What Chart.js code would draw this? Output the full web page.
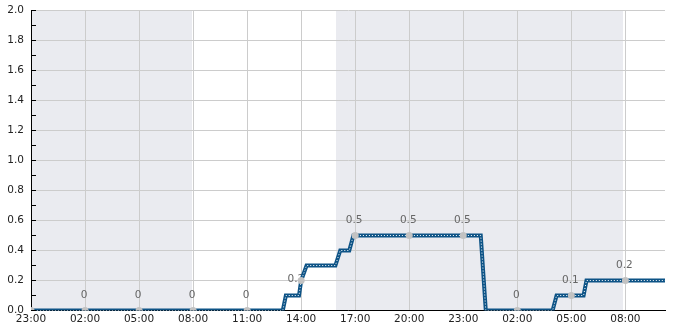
<!DOCTYPE html>
<html>
<head>
<meta charset="utf-8">
<script src="https://cdn.jsdelivr.net/npm/chart.js@4/dist/chart.umd.min.js"></script>
<style>
  html, body { margin: 0; padding: 0; background: #fff; }
  #wrap { width: 685px; height: 330px; }
</style>
</head>
<body>
<div id="wrap"><canvas id="chart" width="685" height="330"></canvas></div>
<script>
// hours counted from 23:00 on the first day
const stepHours  = [0, 13.98, 14.15, 14.88, 15.0, 15.3, 16.9, 17.17, 17.67, 17.9, 24.97, 25.25, 28.96, 29.18, 30.68, 30.84, 35.2];
const stepValues = [0, 0,     0.1,   0.1,   0.2,  0.3,  0.3,  0.4,   0.4,   0.5,  0.5,   0,     0,     0.1,   0.1,   0.2,   0.2];

const markHours  = [0, 3, 6, 9, 12, 15, 18, 21, 24, 27, 30, 33];
const markValues = [0, 0, 0, 0, 0, 0.2, 0.5, 0.5, 0.5, 0, 0.1, 0.2];
const markLabels = ['', '0', '0', '0', '0', '0.2', '0.5', '0.5', '0.5', '0', '0.1', '0.2'];

const hourLabels = ['23:00', '02:00', '05:00', '08:00', '11:00', '14:00', '17:00', '20:00', '23:00', '02:00', '05:00', '08:00'];

const nightStart = [0, 16.93];
const nightEnd   = [8.92, 32.85];

const font = { family: 'DejaVu Sans', size: 10.5 };

const nightShade = {
    id: 'nightShade',
    beforeDraw(chart) {
        const { ctx, chartArea, scales } = chart;
        ctx.save();
        ctx.fillStyle = '#eaebf0';
        const top = Math.round(chartArea.top);
        const bottom = Math.round(chartArea.bottom);
        for (let i = 0; i < nightStart.length; i++) {
            const x1 = Math.round(scales.x.getPixelForValue(nightStart[i]));
            const x2 = Math.round(scales.x.getPixelForValue(nightEnd[i]));
            ctx.fillRect(x1, top, x2 - x1, bottom - top);
        }
        ctx.restore();
    }
};

// value labels sit under the line, like in the original
const markText = {
    id: 'markText',
    beforeDatasetsDraw(chart) {
        const { ctx, scales } = chart;
        ctx.save();
        ctx.font = font.size + 'px ' + font.family;
        ctx.fillStyle = '#666';
        ctx.textBaseline = 'middle';
        markHours.forEach((h, i) => {
            if (!markLabels[i]) return;
            const x = scales.x.getPixelForValue(h);
            const y = scales.y.getPixelForValue(markValues[i]);
            if (i === 5) {
                ctx.textAlign = 'right';
                ctx.fillText(markLabels[i], x + 3, y - 1);
            } else {
                ctx.textAlign = 'center';
                ctx.fillText(markLabels[i], x - 1, y - 15);
            }
        });
        ctx.restore();
    }
};

// small tick marks pointing into the plot
const innerTicks = {
    id: 'innerTicks',
    afterDraw(chart) {
        const { ctx, scales } = chart;
        const left = Math.round(scales.x.left);
        ctx.save();
        ctx.strokeStyle = '#000';
        ctx.lineWidth = 1;
        scales.y.ticks.forEach(t => {
            const y = Math.floor(scales.y.getPixelForValue(t.value)) + 0.5;
            ctx.beginPath();
            ctx.moveTo(left, y);
            ctx.lineTo(left + 5, y);
            ctx.stroke();
        });
        ctx.restore();
    }
};

const linePoints = stepHours.map((h, i) => ({ x: h, y: stepValues[i] }));
const markPoints = markHours.map((h, i) => ({ x: h, y: markValues[i] }));

new Chart(document.getElementById('chart'), {
    type: 'line',
    data: {
        datasets: [
            {
                data: markPoints,
                showLine: false,
                pointRadius: 3.5,
                pointBorderWidth: 0,
                pointBackgroundColor: '#c2c2c2',
                order: 0
            },
            {
                data: linePoints,
                borderColor: '#ffffff',
                borderWidth: 1,
                borderDash: [1, 2],
                pointRadius: 0,
                order: 1
            },
            {
                data: linePoints,
                borderColor: '#0d5386',
                borderWidth: 4,
                borderJoinStyle: 'miter',
                pointRadius: 0,
                order: 2
            }
        ]
    },
    options: {
        responsive: false,
        animation: false,
        layout: { padding: { top: 10.5, right: 20, left: 0, bottom: 0 } },
        plugins: { legend: { display: false }, tooltip: { enabled: false } },
        scales: {
            x: {
                type: 'linear',
                min: 0,
                max: 35.2,
                afterFit: s => {
                    s.height = 19.5;
                    s.paddingLeft = 0;
                    s.paddingRight = 0;
                },
                afterBuildTicks: s => { s.ticks = markHours.map(v => ({ value: v })); },
                grid: { color: '#cccccc', drawTicks: false },
                border: { color: '#000', width: 1 },
                ticks: {
                    font: font,
                    color: '#222',
                    padding: 2,
                    maxRotation: 0,
                    autoSkip: false,
                    callback: (v) => hourLabels[markHours.indexOf(v)]
                }
            },
            y: {
                min: 0,
                max: 2,
                afterFit: s => {
                    s.width = 31;
                    s.paddingTop = 0;
                    s.paddingBottom = 0;
                },
                grid: {
                    color: ctx => (Math.round(ctx.tick.value * 10) % 2 ? 'transparent' : '#cccccc'),
                    drawTicks: false
                },
                border: { color: '#000', width: 1 },
                ticks: {
                    stepSize: 0.1,
                    font: font,
                    color: '#222',
                    padding: 7,
                    autoSkip: false,
                    callback: v => (Math.round(v * 10) % 2 ? '' : v.toFixed(1))
                }
            }
        }
    },
    plugins: [nightShade, markText, innerTicks]
});
</script>
</body>
</html>
